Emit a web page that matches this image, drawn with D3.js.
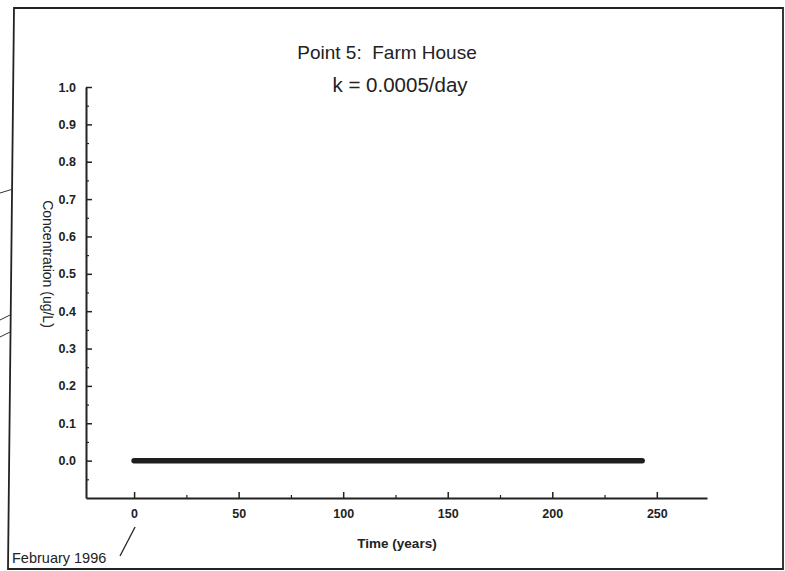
<!DOCTYPE html>
<html>
<head>
<meta charset="utf-8">
<script src="https://cdn.jsdelivr.net/npm/d3@7"></script>
<style>
  body { margin: 0; background: #fff; }
  svg { display: block; font-family: "Liberation Sans", Arial, Helvetica, sans-serif; }
</style>
</head>
<body>
<div id="container"></div>
<script>
// chart values
let timeYears = [0, 50, 100, 150, 200, 243];
let concentration = [0.0, 0.0, 0.0, 0.0, 0.0, 0.0];
let yTickValues = [0.0, 0.1, 0.2, 0.3, 0.4, 0.5, 0.6, 0.7, 0.8, 0.9, 1.0];
let yMinorValues = [-0.05, 0.05, 0.15, 0.25, 0.35, 0.45, 0.55, 0.65, 0.75, 0.85, 0.95];
let xTickValues = [0, 50, 100, 150, 200, 250];
let xMinorValues = [25, 75, 125, 175, 225];
let titleLines = ["Point 5:  Farm House", "k = 0.0005/day"];

let w = 785;
let h = 571;

let viz = d3.select("#container")
  .append("svg")
    .attr("width", w)
    .attr("height", h)
;

// page frame (scan is slightly skewed)
viz.append("path")
  .attr("d", "M14,8 L783,8 L783,569 L8,569 Z")
  .attr("fill", "none")
  .attr("stroke", "#222")
  .attr("stroke-width", 1.8)
;

// bits of lines coming in from off the page
let strays = [[[0, 193], [13, 189]], [[0, 320], [10, 315]], [[0, 337], [10, 332]]];
strays.forEach(function(s){
  viz.append("line")
    .attr("x1", s[0][0]).attr("y1", s[0][1])
    .attr("x2", s[1][0]).attr("y2", s[1][1])
    .attr("stroke", "#333")
    .attr("stroke-width", 1);
});

let xScale = d3.scaleLinear().domain([-23, 274]).range([86, 707]);
let yScale = d3.scaleLinear().domain([-0.1, 1.0]).range([498, 87]);

// y axis, ticks pointing inward
let yAxis = d3.axisLeft(yScale)
  .tickValues(yTickValues)
  .tickFormat(d3.format(".1f"))
  .tickSize(-6)
  .tickSizeOuter(0)
  .tickPadding(10);
let yAxisGroup = viz.append("g").attr("transform", "translate(" + xScale(-23) + ",0)").call(yAxis);
yAxisGroup.select(".domain").attr("stroke", "#222").attr("stroke-width", 2);
yAxisGroup.selectAll("line").attr("stroke", "#222").attr("stroke-width", 1.5);
yAxisGroup.selectAll("text")
  .attr("font-size", 12.5)
  .attr("font-weight", "bold")
  .attr("fill", "#222")
  .attr("font-family", "Liberation Sans, Arial, sans-serif");

let yMinor = d3.axisLeft(yScale).tickValues(yMinorValues).tickSize(-3).tickFormat("");
let yMinorGroup = viz.append("g").attr("transform", "translate(" + xScale(-23) + ",0)").call(yMinor);
yMinorGroup.select(".domain").remove();
yMinorGroup.selectAll("line").attr("stroke", "#222").attr("stroke-width", 1.2);

// x axis, ticks pointing up
let xAxis = d3.axisBottom(xScale)
  .tickValues(xTickValues)
  .tickSize(-6)
  .tickSizeOuter(0)
  .tickPadding(11);
let xAxisGroup = viz.append("g").attr("transform", "translate(0," + yScale(-0.1) + ")").call(xAxis);
xAxisGroup.select(".domain").attr("stroke", "#222").attr("stroke-width", 2);
xAxisGroup.selectAll("line").attr("stroke", "#222").attr("stroke-width", 1.5);
xAxisGroup.selectAll("text")
  .attr("font-size", 12.5)
  .attr("font-weight", "bold")
  .attr("fill", "#222")
  .attr("font-family", "Liberation Sans, Arial, sans-serif");

let xMinor = d3.axisBottom(xScale).tickValues(xMinorValues).tickSize(-3).tickFormat("");
let xMinorGroup = viz.append("g").attr("transform", "translate(0," + yScale(-0.1) + ")").call(xMinor);
xMinorGroup.select(".domain").remove();
xMinorGroup.selectAll("line").attr("stroke", "#222").attr("stroke-width", 1.2);

// the concentration curve
let points = timeYears.map(function(t, i){ return [t, concentration[i]]; });
let line = d3.line()
  .x(function(d){ return xScale(d[0]); })
  .y(function(d){ return yScale(d[1]); });
viz.append("path")
  .datum(points)
  .attr("d", line)
  .attr("fill", "none")
  .attr("stroke", "#1e1e1e")
  .attr("stroke-width", 5.5)
  .attr("stroke-linecap", "round")
;

// titles
viz.append("text")
  .attr("x", 387).attr("y", 59)
  .attr("text-anchor", "middle")
  .attr("font-size", 19)
  .attr("fill", "#222")
  .attr("xml:space", "preserve")
  .style("white-space", "pre")
  .text(titleLines[0]);
viz.append("text")
  .attr("x", 400).attr("y", 92)
  .attr("text-anchor", "middle")
  .attr("font-size", 20.5)
  .attr("fill", "#222")
  .text(titleLines[1]);

// axis titles
viz.append("text")
  .attr("transform", "translate(43,264) rotate(90)")
  .attr("text-anchor", "middle")
  .attr("font-size", 14)
  .attr("fill", "#222")
  .text("Concentration (ug/L)");
viz.append("text")
  .attr("x", 397).attr("y", 548)
  .attr("text-anchor", "middle")
  .attr("font-size", 13.5)
  .attr("font-weight", "bold")
  .attr("fill", "#222")
  .text("Time (years)");

// start date note with its pointer
viz.append("text")
  .attr("x", 12).attr("y", 563)
  .attr("font-size", 14.5)
  .attr("fill", "#222")
  .text("February 1996");
viz.append("line")
  .attr("x1", 120).attr("y1", 556)
  .attr("x2", xScale(0) + 1).attr("y2", 527)
  .attr("stroke", "#222")
  .attr("stroke-width", 1.3);
</script>
</body>
</html>
